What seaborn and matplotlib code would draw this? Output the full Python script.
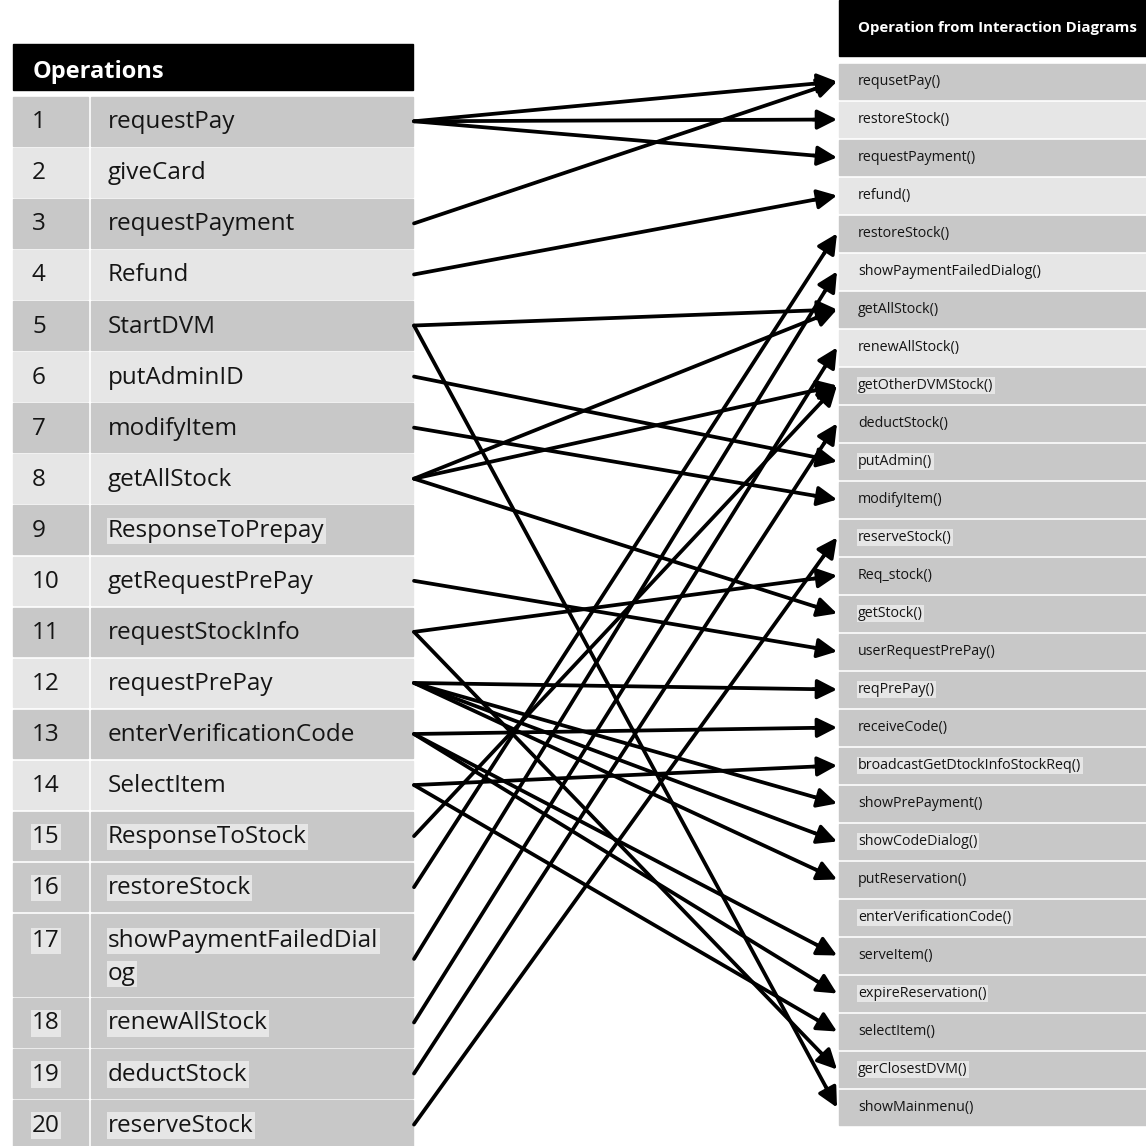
import matplotlib
matplotlib.use("Agg")
import matplotlib.pyplot as plt
from matplotlib.patches import Rectangle, FancyArrowPatch
import seaborn as sns
import pandas as pd
import numpy as np

sns.set_theme(style="white")
plt.rcParams['font.family'] = ['Open Sans', 'DejaVu Sans']

# operations listed in the left table
left_ops = ['requestPay', 'giveCard', 'requestPayment', 'Refund', 'StartDVM',
            'putAdminID', 'modifyItem', 'getAllStock', 'ResponseToPrepay',
            'getRequestPrePay', 'requestStockInfo', 'requestPrePay',
            'enterVerificationCode', 'SelectItem', 'ResponseToStock',
            'restoreStock', 'showPaymentFailedDial\nog', 'renewAllStock',
            'deductStock', 'reserveStock']

# operations from interaction diagrams (right table)
right_ops = ['requsetPay()', 'restoreStock()', 'requestPayment()', 'refund()',
             'restoreStock()', 'showPaymentFailedDialog()', 'getAllStock()',
             'renewAllStock()', 'getOtherDVMStock()', 'deductStock()',
             'putAdmin()', 'modifyItem()', 'reserveStock()', 'Req_stock()',
             'getStock()', 'userRequestPrePay()', 'reqPrePay()', 'receiveCode()',
             'broadcastGetDtockInfoStockReq()', 'showPrePayment()',
             'showCodeDialog()', 'putReservation()', 'enterVerificationCode()',
             'serveItem()', 'expireReservation()', 'selectItem()',
             'gerClosestDVM()', 'showMainmenu()']

# mapping arrows: left row number -> right row number
link_from = [1, 1, 1, 3, 4, 5, 5, 6, 7, 8, 8, 8, 10, 11, 11,
             12, 12, 12, 12, 13, 13, 13, 14, 14, 15, 16, 17, 18, 19, 20]
link_to = [1, 2, 3, 1, 4, 7, 28, 11, 12, 7, 9, 15, 16, 14, 27,
           17, 20, 21, 22, 18, 24, 25, 19, 26, 9, 5, 6, 8, 10, 13]

DARK = '#c8c8c8'
LIGHT = '#e6e6e6'
TXT = '#151515'

fig = plt.figure(figsize=(11.46, 11.46), dpi=100)
ax = fig.add_axes([0, 0, 1, 1])

# ---- left table ----
L_X0, L_XM, L_X1 = 13, 88, 413
L_TOP, L_PITCH, GAP = 97, 51.06, 2.5
ax.add_patch(Rectangle((L_X0, 44), L_X1 - L_X0, 46, color='black'))
ax.text(33, 72, 'Operations', color='white', fontsize=17, fontweight='bold', va='center')

left_rows_h = [1.65 if '\n' in s else 1.0 for s in left_ops]
left_y = []
y = L_TOP
for i, (name, h) in enumerate(zip(left_ops, left_rows_h)):
    n = i + 1
    hpx = h * L_PITCH - GAP
    col = LIGHT if (n <= 14 and n % 2 == 0) else DARK
    ax.add_patch(Rectangle((L_X0, y), L_XM - L_X0, hpx, color=col))
    ax.add_patch(Rectangle((L_XM + 2.5, y), L_X1 - L_XM - 2.5, hpx, color=col))
    hl = dict(boxstyle='square,pad=0.05', fc=LIGHT, ec='none')
    num_bbox = hl if n >= 15 else None
    name_bbox = hl if (n >= 15 or n == 9) else None
    if h > 1:
        ax.text(32, y + 27, str(n), fontsize=17.5, va='center', bbox=num_bbox, color=TXT)
        ax.text(108, y + 27, name.split('\n')[0], fontsize=17.5, va='center', bbox=name_bbox, color=TXT)
        ax.text(108, y + 60, name.split('\n')[1], fontsize=17.5, va='center', bbox=name_bbox, color=TXT)
        left_y.append(y + 45)
    else:
        yc = y + hpx / 2 + 1
        ax.text(32, yc, str(n), fontsize=17.5, va='center', bbox=num_bbox, color=TXT)
        ax.text(108, yc, name, fontsize=17.5, va='center', bbox=name_bbox, color=TXT)
        left_y.append(yc - 1)
    y += h * L_PITCH

# ---- right table ----
R_X0, R_X1 = 839, 1146
R_TOP, R_PITCH, R_GAP = 64, 38.0, 3
ax.add_patch(Rectangle((R_X0, 0), R_X1 - R_X0, 56, color='black'))
ax.text(858, 28, 'Operation from Interaction Diagrams', color='white',
        fontsize=10.8, fontweight='bold', va='center')
right_y = []
for i, name in enumerate(right_ops):
    n = i + 1
    y0 = R_TOP + i * R_PITCH
    col = LIGHT if (n <= 8 and n % 2 == 0) else DARK
    ax.add_patch(Rectangle((R_X0, y0), R_X1 - R_X0, R_PITCH - R_GAP, color=col))
    yc = y0 + (R_PITCH - R_GAP) / 2
    bb = dict(boxstyle='square,pad=0.1', fc=LIGHT, ec='none') if (n >= 9 and n % 2 == 1) else None
    ax.text(858, yc, name, fontsize=10.3, va='center', bbox=bb, color=TXT)
    right_y.append(yc)

# ---- arrows ----
X_START, X_END = 414, 837
rows = []
for k, (a, b) in enumerate(zip(link_from, link_to)):
    y0, y1 = left_y[a - 1], right_y[b - 1]
    d = np.array([X_END - X_START, y1 - y0], dtype=float)
    u = d / np.hypot(*d)
    ex, ey = np.array([X_END, y1]) - 10 * u
    rows.append({'link': k, 'x': X_START, 'y': y0})
    rows.append({'link': k, 'x': ex, 'y': ey})
    hx, hy = np.array([X_END, y1]) - 24 * u
    ax.add_patch(FancyArrowPatch((hx, hy), (X_END, y1), arrowstyle='-|>,head_length=12,head_width=6',
                                 mutation_scale=1, color='black', lw=2.5, shrinkA=0, shrinkB=0))
seg = pd.DataFrame(rows)
sns.lineplot(data=seg, x='x', y='y', units='link', estimator=None, sort=False,
             color='black', lw=2.7, ax=ax, legend=False)
ax.set_xlim(0, 1146)
ax.set_ylim(1146, 0)
ax.axis('off')

fig.savefig('out.png', dpi=100, facecolor='white')
